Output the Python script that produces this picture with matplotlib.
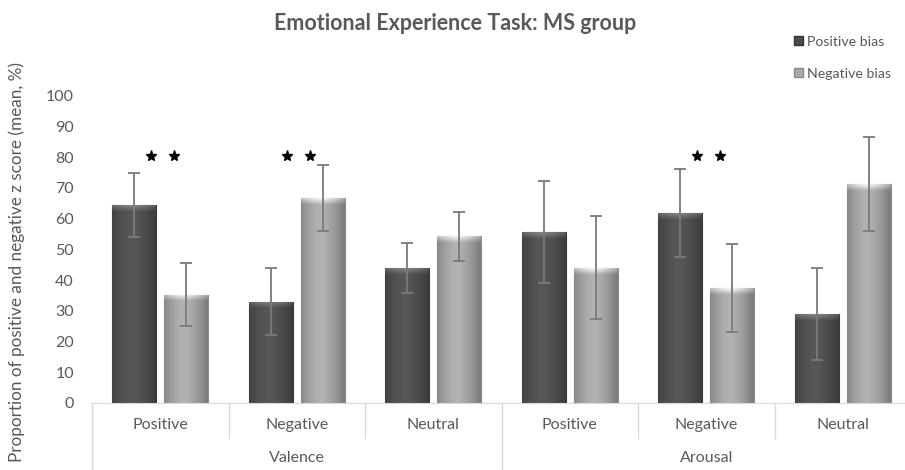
import matplotlib
matplotlib.use("Agg")
import matplotlib.pyplot as plt
from matplotlib.patches import Patch
from matplotlib.transforms import blended_transform_factory
import numpy as np

plt.rcParams['font.family'] = ['Lato', 'DejaVu Sans']

categories = ["Positive", "Negative", "Neutral", "Positive", "Negative", "Neutral"]
groups = ["Valence", "Arousal"]
positive_bias = [64.5, 33, 44, 55.7, 61.8, 29]
positive_err = [10.5, 11, 8.2, 16.5, 14.4, 15]
negative_bias = [35.3, 66.7, 54.2, 44, 37.4, 71.3]
negative_err = [10.3, 10.8, 8, 16.7, 14.4, 15.3]
significant = [True, True, False, False, True, False]
yticks = [0, 10, 20, 30, 40, 50, 60, 70, 80, 90, 100]

TXT = "#595959"
DARK = "#4d4d4d"
LIGHT = "#a8a8a8"

fig = plt.figure(figsize=(9.05, 4.70), dpi=100)
ax = fig.add_axes([92/905, 67/470, 819/905, 307.3/470])

x = np.arange(len(categories))
w = 0.32
off = 0.19
b1 = ax.bar(x - off, positive_bias, w, color=DARK, edgecolor="#3a3a3a", linewidth=0.8, zorder=2)
b2 = ax.bar(x + off, negative_bias, w, color=LIGHT, edgecolor="#8c8c8c", linewidth=0.8, zorder=2)


def shade(bars, base, top_col):
    # horizontal cylinder-like gradient clipped to each bar
    t = np.linspace(0, 1, 64)
    prof = 1 - 0.35 * np.abs(t - 0.45) ** 1.5 * 2.2
    prof = np.clip(prof, 0.55, 1.0)
    for p in bars:
        x0, y0 = p.get_x(), p.get_y()
        ww, hh = p.get_width(), p.get_height()
        img = np.ones((2, 64, 3)) * np.array(base)[None, None, :] * prof[None, :, None]
        im = ax.imshow(img, extent=[x0, x0 + ww, y0, y0 + hh], aspect="auto",
                       interpolation="bilinear", zorder=2.5)
        im.set_clip_path(p)
        cap = min(2.2, hh)
        capimg = np.ones((8, 64, 3)) * np.array(top_col)[None, None, :] * prof[None, :, None]
        fade = np.linspace(0.0, 1.0, 8)[:, None, None]
        capimg = capimg * fade + (np.array(base)[None, None, :] * prof[None, :, None]) * (1 - fade)
        im2 = ax.imshow(np.clip(capimg, 0, 1), extent=[x0, x0 + ww, y0 + hh - cap, y0 + hh],
                        aspect="auto", origin="lower", interpolation="bilinear", zorder=2.6)
        im2.set_clip_path(p)


shade(b1, (0.34, 0.34, 0.34), (0.52, 0.52, 0.52))
shade(b2, (0.70, 0.70, 0.70), (0.97, 0.97, 0.97))

ax.errorbar(x - off, positive_bias, yerr=positive_err, fmt="none", ecolor="#7a7a7a",
            elinewidth=1.3, capsize=4, capthick=1.3, zorder=4)
ax.errorbar(x + off, negative_bias, yerr=negative_err, fmt="none", ecolor="#7a7a7a",
            elinewidth=1.3, capsize=4, capthick=1.3, zorder=4)

for i, s in enumerate(significant):
    if s:
        ax.plot([x[i] - 0.07, x[i] + 0.1], [80.5, 80.5], linestyle="none", marker="*",
                markersize=8, color="black", zorder=5)

ax.set_xlim(-0.5, len(categories) - 0.5)
ax.set_ylim(0, 100)
ax.set_yticks(yticks)
ax.set_yticklabels([str(t) for t in yticks], fontsize=11.5, color=TXT)
ax.set_xticks(x)
ax.set_xticklabels(categories, fontsize=11.5, color=TXT)
ax.tick_params(axis="x", length=0, pad=11)
ax.tick_params(axis="y", length=0, pad=13)
for sp in ["top", "right", "left"]:
    ax.spines[sp].set_visible(False)
ax.spines["bottom"].set_color("#d9d9d9")

tr = blended_transform_factory(ax.transData, ax.transAxes)
for k in range(len(categories) + 1):
    xs = k - 0.5
    if k in (0, 3, 6):
        ax.plot([xs, xs], [0, -0.22], transform=tr, color="#d9d9d9", lw=1, clip_on=False)
    else:
        ax.plot([xs, xs], [0, -0.115], transform=tr, color="#d9d9d9", lw=1, clip_on=False)
for gi, g in enumerate(groups):
    ax.text(gi * 3 + 1, -0.178, g, transform=tr, ha="center", va="center",
            fontsize=11.5, color=TXT)

ax.set_ylabel("Proportion of positive and negative z score (mean, %)", fontsize=12.3,
              color=TXT)
ax.yaxis.set_label_coords(-0.082, 0.46)

fig.text(0.503, 0.950, "Emotional Experience Task: MS group", ha="center", va="center",
         fontsize=15.5, fontweight="bold", color=TXT)

handles = [Patch(facecolor=DARK, edgecolor="#333333"), Patch(facecolor=LIGHT, edgecolor="#8a8a8a")]
leg = fig.legend(handles, ["Positive bias", "Negative bias"], loc="upper left",
                 bbox_to_anchor=(0.868, 0.942), frameon=False, fontsize=10.2,
                 handlelength=0.6, handleheight=0.6, handletextpad=0.3, labelspacing=1.4,
                 borderaxespad=0.2)
for t in leg.get_texts():
    t.set_color(TXT)

fig.savefig("out.png", dpi=100)
